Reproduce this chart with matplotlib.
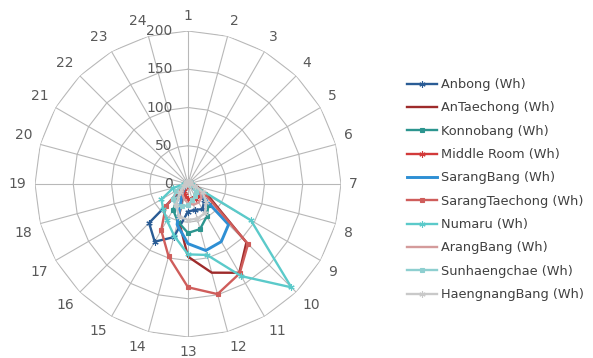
import numpy as np
import matplotlib
matplotlib.use("Agg")
import matplotlib.pyplot as plt

hours = [str(h) for h in range(1, 25)]
radial_ticks = [0, 50, 100, 150, 200]

series_names = ["Anbong (Wh)", "AnTaechong (Wh)", "Konnobang (Wh)", "Middle Room (Wh)",
                "SarangBang (Wh)", "SarangTaechong (Wh)", "Numaru (Wh)", "ArangBang (Wh)",
                "Sunhaengchae (Wh)", "HaengnangBang (Wh)"]

#            1  2  3  4  5  6  7  8   9   10   11   12   13   14  15  16  17  18  19 20 21 22 23 24
anbong     = [3, 3, 3, 3, 3, 3, 3, 5, 10,  30,  38,  35,  36,  72, 87, 72,  3,  3,  3, 3, 3, 3, 3, 3]
antaechong = [3, 3, 3, 3, 3, 3, 3, 12, 30, 108, 134, 120,  95,  48, 12,  5,  3,  3,  3, 3, 3, 3, 3, 3]
konnobang  = [2, 2, 2, 2, 2, 2, 2, 5, 15,  38,  49,  61,  64,  51, 39, 15,  5,  2,  2, 2, 2, 2, 2, 2]
middle     = [2, 2, 2, 2, 2, 2, 2, 8, 18,  22,  22,  20,  20,  15, 10,  6,  2,  2,  2, 2, 2, 2, 2, 2]
sarangbang = [2, 2, 2, 2, 2, 2, 2, 5, 10,  75,  87,  90,  78,  55, 15,  6,  2,  2,  2, 2, 2, 2, 2, 2]
sarangtae  = [3, 3, 3, 3, 3, 3, 3, 10, 25, 111, 135, 149, 135,  98, 70, 41, 10,  3,  3, 3, 3, 3, 3, 3]
numaru     = [3, 3, 3, 3, 3, 3, 3, 8, 95, 191, 139,  96,  92,  70, 55, 46, 40, 20,  5, 3, 3, 3, 3, 3]
arangbang  = [2, 2, 2, 2, 2, 2, 2, 8, 18,  25,  28,  28,  25,  20, 15,  8,  2,  2,  2, 2, 2, 2, 2, 2]
sunhaeng   = [3, 3, 3, 3, 3, 3, 3, 3, 10,  15,  18,  22,  28,  30, 32, 28, 18,  8,  3, 3, 3, 3, 3, 3]
haengnang  = [3, 3, 3, 3, 3, 3, 3, 10, 22,  34,  44,  47,  47,  44, 32, 15,  6,  3,  3, 3, 3, 3, 3, 3]

data = [anbong, antaechong, konnobang, middle, sarangbang, sarangtae, numaru,
        arangbang, sunhaeng, haengnang]
colors = ["#2A5C95", "#9E2B2B", "#2C958F", "#D23A3A", "#2E8FD4", "#CF5D5B",
          "#5BCACA", "#D49B9B", "#8ECFD0", "#C9C9C9"]
asterisk = (6, 2, 0)
markers = [asterisk, None, "s", asterisk, None, "s", asterisk, None, "s", asterisk]
msizes = [4.5, 0, 3.5, 4.5, 0, 3.5, 4.5, 0, 3.5, 4.5]
lws = [1.7, 1.7, 1.7, 1.7, 2.1, 1.7, 1.7, 1.7, 1.7, 1.7]

W, H = 593, 358
fig = plt.figure(figsize=(W / 100, H / 100), dpi=100)
cx, cy, R = 188, 184, 153
ax = fig.add_axes([(cx - R) / W, (H - cy - R) / H, 2 * R / W, 2 * R / H], projection="polar")
ax.set_theta_zero_location("N")
ax.set_theta_direction(-1)
ax.set_ylim(0, 200)

n = len(hours)
theta = np.arange(n) * 2 * np.pi / n
theta_c = np.append(theta, theta[0])

grid_col = "#B8B8B8"
ax.set_xticks(theta)
ax.set_xticklabels([])
ax.set_yticks([])
ax.xaxis.grid(True, color=grid_col, lw=0.8)
ax.yaxis.grid(False)
ax.spines["polar"].set_visible(False)

for r in radial_ticks[1:]:
    ax.plot(theta_c, [r] * (n + 1), color=grid_col, lw=0.8, zorder=1)

txt_col = "#595959"
for t, lab in zip(theta, hours):
    s, c = np.sin(t), np.cos(t)
    ha = "left" if s > 0.1 else ("right" if s < -0.1 else "center")
    va = "bottom" if c > 0.1 else ("top" if c < -0.1 else "center")
    ax.annotate(lab, xy=(t, 200), xytext=(6 * s, 6 * c), textcoords="offset points",
                ha=ha, va=va, fontsize=10, color=txt_col, annotation_clip=False)

for r in radial_ticks:
    ax.annotate(str(r), xy=(0, r), xytext=(-11, 0), textcoords="offset points",
                ha="right", va="center", fontsize=10, color=txt_col, annotation_clip=False)

handles = []
for name, vals, col, mk, ms, lw in zip(series_names, data, colors, markers, msizes, lws):
    v = np.append(vals, vals[0])
    h, = ax.plot(theta_c, v, color=col, lw=lw, marker=mk, markersize=ms,
                 markeredgewidth=0.8, label=name, zorder=3, clip_on=False)
    handles.append(h)

leg = fig.legend(handles=handles, loc="upper left", bbox_to_anchor=(402 / W, 1 - 73 / H),
                 frameon=False, fontsize=9.3, handlelength=2.3, handletextpad=0.3,
                 labelspacing=0.8, borderaxespad=0)
for t in leg.get_texts():
    t.set_color("#404040")

fig.savefig("out.png", dpi=100)
